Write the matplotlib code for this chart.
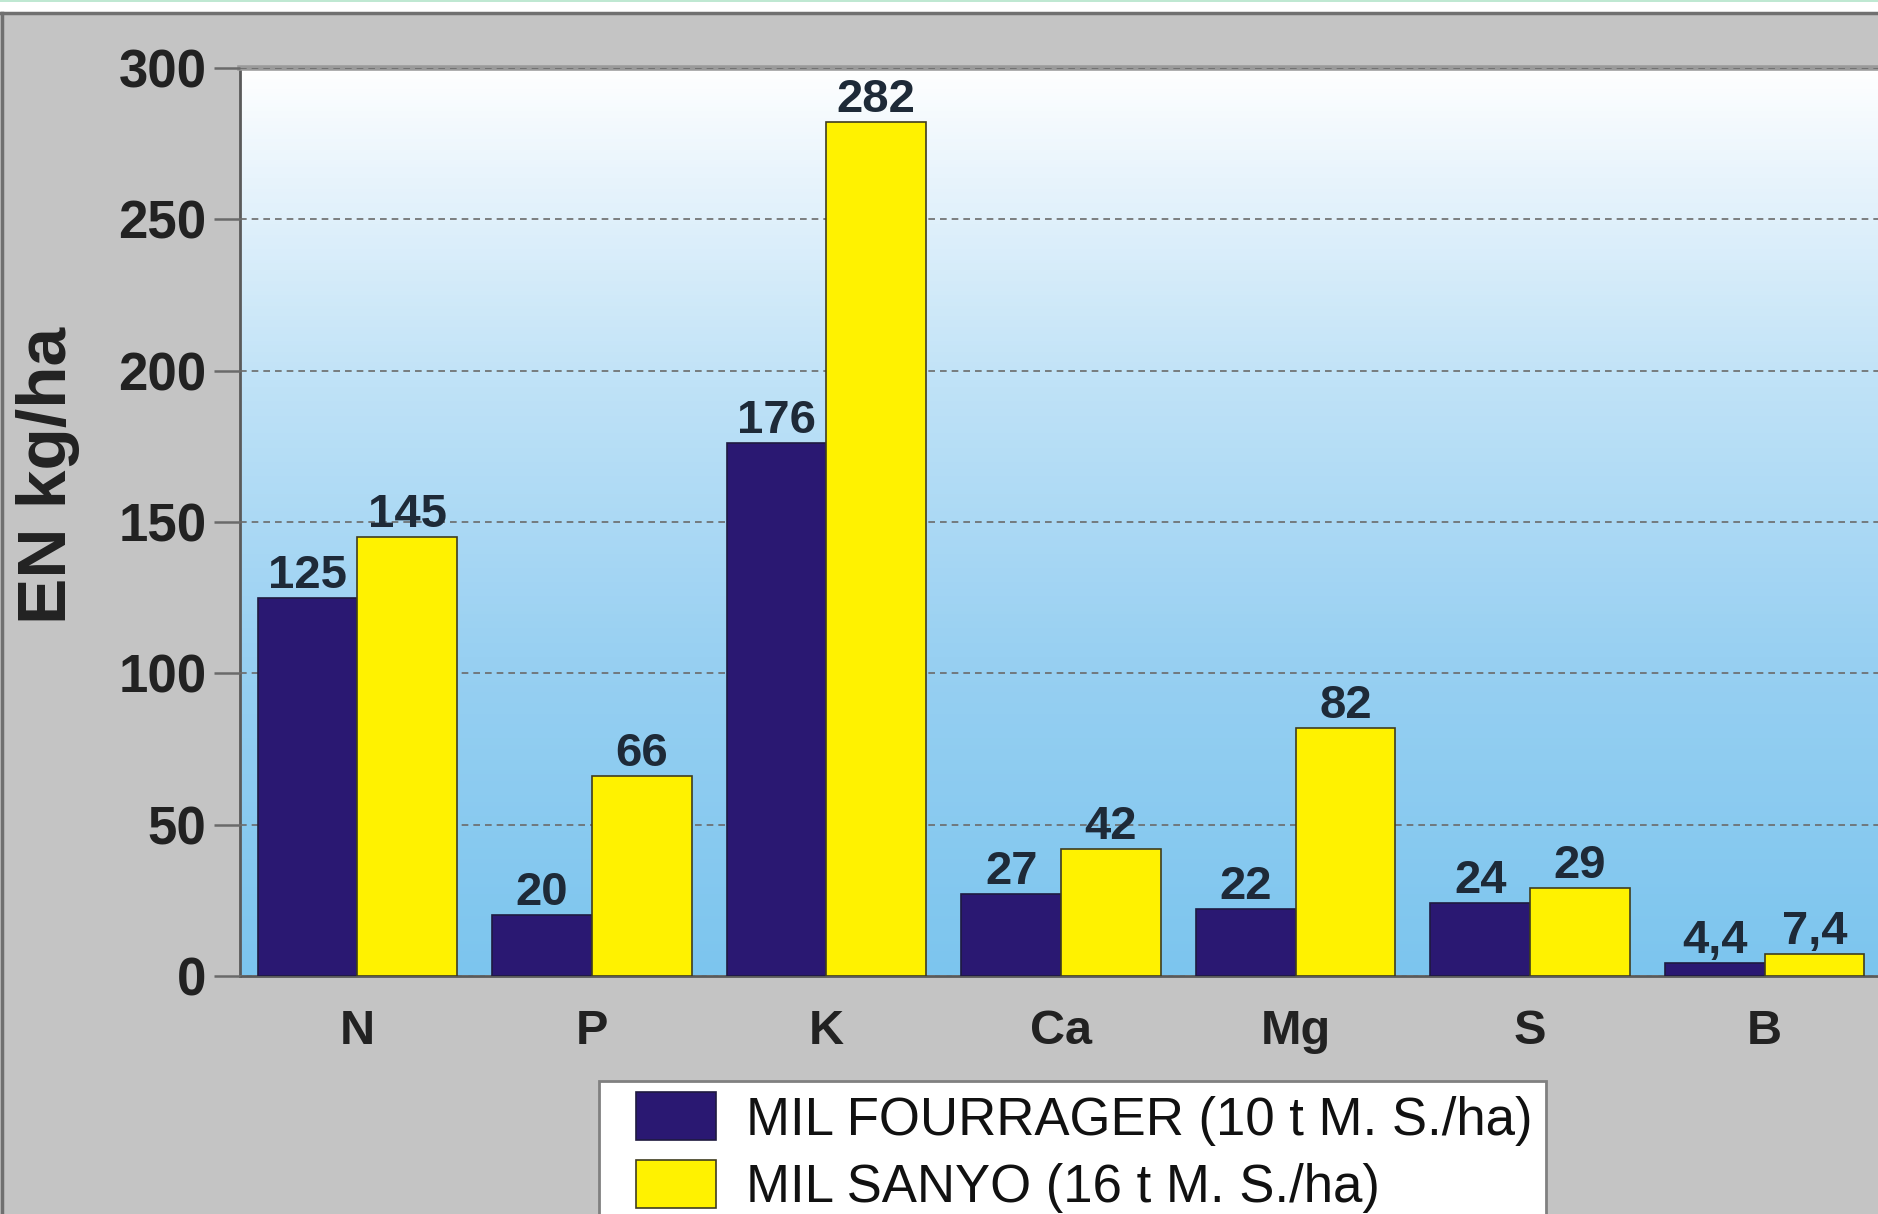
import numpy as np
import matplotlib
matplotlib.use('Agg')
import matplotlib.pyplot as plt
from matplotlib import colors
from matplotlib.patches import Rectangle
from matplotlib.legend_handler import HandlerPatch

# data
elements = ['N', 'P', 'K', 'Ca', 'Mg', 'S', 'B']
fourrager = [125, 20, 176, 27, 22, 24, 4.4]
sanyo = [145, 66, 282, 42, 82, 29, 7.4]
series_names = ['MIL FOURRAGER (10 t M. S./ha)', 'MIL SANYO (16 t M. S./ha)']
y_ticks = [0, 50, 100, 150, 200, 250, 300]

W, H = 1878, 1214
plt.rcParams['font.family'] = ['Liberation Sans', 'DejaVu Sans']

fig = plt.figure(figsize=(W / 100, H / 100), dpi=100)
fig.patch.set_facecolor('#c4c4c4')

# white strip on top with green line, dark frame for the panel
fig.patches.append(Rectangle((0, 1 - 12 / H), 1, 12 / H, transform=fig.transFigure,
                             facecolor='white', edgecolor='none', zorder=0))
fig.patches.append(Rectangle((0, 1 - 2 / H), 1, 2 / H, transform=fig.transFigure,
                             facecolor='#bfe8d2', edgecolor='none', zorder=0))
fig.lines.append(plt.Line2D([0, 1], [1 - 13 / H, 1 - 13 / H], transform=fig.transFigure,
                            color='#707070', lw=2.5))
fig.lines.append(plt.Line2D([2 / W, 2 / W], [0, 1 - 13 / H], transform=fig.transFigure,
                            color='#707070', lw=2.5))

left, right, top, bottom = 240, 1882, 68, 976
ax = fig.add_axes([left / W, 1 - bottom / H, (right - left) / W, (bottom - top) / H])

# gradient background
grad = colors.LinearSegmentedColormap.from_list(
    'sky', [(0, '#7cc5ee'), (0.35, '#98d0f2'), (0.65, '#bfe2f7'),
            (0.88, '#e8f4fc'), (1.0, '#ffffff')])
ax.imshow(np.linspace(0, 1, 256).reshape(-1, 1), cmap=grad, origin='lower',
          extent=[-0.5, 6.5, 0, 300], aspect='auto', zorder=0)

x = np.arange(len(elements))
bw = 0.425
b1 = ax.bar(x - bw / 2, fourrager, bw, color='#2a1872', edgecolor='#1f1a40',
            lw=1.2, zorder=3, label=series_names[0])
b2 = ax.bar(x + bw / 2, sanyo, bw, color='#fff200', edgecolor='#3f3d20',
            lw=1.2, zorder=3, label=series_names[1])

for bars, vals in [(b1, fourrager), (b2, sanyo)]:
    for r, v in zip(bars, vals):
        txt = f'{v:g}'.replace('.', ',')
        ax.annotate(txt, (r.get_x() + r.get_width() / 2, v), xytext=(0, 0),
                    textcoords='offset points', ha='center', va='bottom',
                    fontsize=34, fontweight='bold', color='#1e2a38', zorder=4)

ax.set_xlim(-0.5, 6.5)
ax.set_ylim(0, 300)
ax.set_yticks(y_ticks)
ax.set_xticks(x, elements)
ax.yaxis.grid(True, ls=(0, (4, 3)), color='#6a6a6a', lw=1.2, zorder=1)
ax.set_axisbelow(False)

ax.tick_params(axis='y', length=19, width=1.8, color='#6a6a6a', pad=5,
               labelsize=38, labelcolor='#222222')
ax.tick_params(axis='x', length=0, pad=24, labelsize=35, labelcolor='#222222')
for lab in ax.get_xticklabels() + ax.get_yticklabels():
    lab.set_fontweight('bold')

for s in ['left', 'bottom']:
    ax.spines[s].set_color('#5a5a5a')
    ax.spines[s].set_linewidth(2)
ax.spines['top'].set_color('#9a9a9a')
ax.spines['top'].set_linewidth(4)
ax.spines['right'].set_visible(False)

fig.text(48 / W, 1 - 475 / H, 'EN kg/ha', rotation=90, ha='center', va='center',
         fontsize=50, fontweight='bold', color='#222222')


# legend swatch drawn at the right part of the handle box
def swatch(legend, orig_handle, xdescent, ydescent, width, height, fontsize):
    sw, sh = 57.6, 34.5
    return Rectangle((-xdescent + width - sw, -ydescent + (height - sh) / 2), sw, sh)


fs_leg = 38
leg = ax.legend(handles=[b1.patches[0], b2.patches[0]], labels=series_names,
                loc='upper left', bbox_to_anchor=(599 / W, 1 - 1081 / H),
                bbox_transform=fig.transFigure, borderaxespad=0, fancybox=False,
                framealpha=1, edgecolor='#808080', facecolor='white',
                prop={'size': fs_leg},
                handler_map={Rectangle: HandlerPatch(patch_func=swatch)},
                handlelength=75 / fs_leg, handleheight=0.95, handletextpad=0.58,
                labelspacing=0.29, borderpad=0.24)
leg.get_frame().set_linewidth(2)
for t in leg.get_texts():
    t.set_color('#111111')

fig.savefig('out.png', dpi=100, facecolor=fig.get_facecolor())
